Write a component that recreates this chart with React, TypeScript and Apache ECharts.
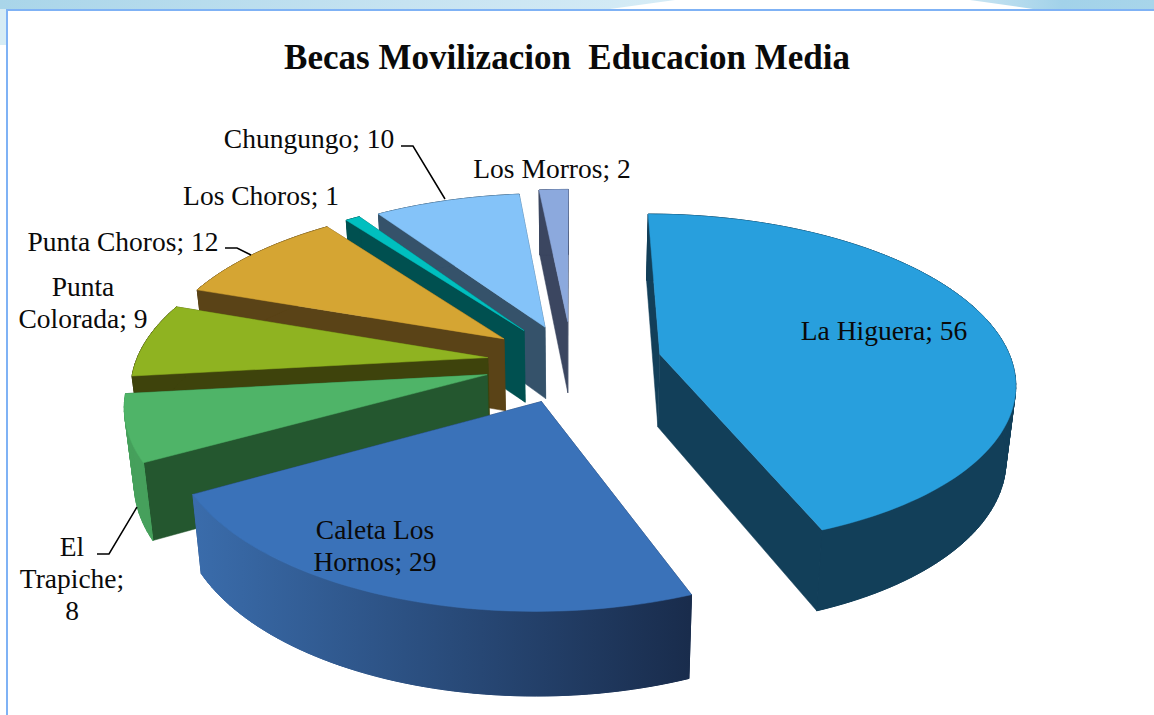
import React, { useEffect, useRef } from "react";
import * as echarts from "echarts";

const categories = ["La Higuera", "Caleta Los Hornos", "El Trapiche", "Punta Colorada", "Punta Choros", "Los Choros", "Chungungo", "Los Morros"];
const values = [56, 29, 8, 9, 12, 1, 10, 2];
const explode = [90, 87, 88, 85, 86, 85, 82, 90];
const topColors = ["#289FDD", "#3A72B9", "#4FB468", "#8FB321", "#D5A533", "#00BFBF", "#84C3F9", "#8CA9DD"];
const faceColors = ["#123F59", "#1A2D4E", "#24572F", "#3E430C", "#5A4317", "#005050", "#35526A", "#3B4660"];
const wallColors = ["#123F59", "", "#46A05C", "#3E430C", "#5A4317", "#005050", "#35526A", "#3B4660"];
const labelLines = [["La Higuera; 56"], ["Caleta Los", "Hornos; 29"], ["El", "Trapiche;", "8"], ["Punta", "Colorada; 9"], ["Punta Choros; 12"], ["Los Choros; 1"], ["Chungungo; 10"], ["Los Morros; 2"]];
const labelCenters = [[884, 330], [375, 545], [72, 578], [83, 302], [123, 241], [261, 195], [309, 138], [552, 168]];
const leaders = [[[401, 146], [413, 146], [445, 199]], [[225, 248], [237, 248], [251, 255]], [[97, 554], [109, 554], [137, 507]]];
const titleText = "Becas Movilizacion  Educacion Media";

const CX = 572, CY = 362, R = 352, TILT = 164, PERSP = 6.5, DEPTH = 73, BOTTOM_SCALE = 0.978;
const FONT = "'Liberation Serif', serif";
const total = values.reduce((a, b) => a + b, 0);

function project(X: number, Z: number) {
  const s = PERSP / (PERSP + Z / R);
  return { x: X * s, y: ((-Z * TILT) / R) * s, s };
}
function top(theta: number, r: number, ex: number, mid: number) {
  const p = project(r * Math.sin(theta) + ex * Math.sin(mid), r * Math.cos(theta) + ex * Math.cos(mid));
  return [CX + p.x, CY + p.y];
}
function bottom(theta: number, r: number, ex: number, mid: number) {
  const p = project(r * Math.sin(theta) + ex * Math.sin(mid), r * Math.cos(theta) + ex * Math.cos(mid));
  return [CX + p.x * BOTTOM_SCALE, CY + p.y * BOTTOM_SCALE + DEPTH * p.s];
}

function renderSlice(params: any, api: any) {
  const i = api.value(0);
  let cum = 0;
  for (let k = 0; k < i; k++) cum += values[k];
  const a0 = (cum / total) * Math.PI * 2;
  const a1 = ((cum + values[i]) / total) * Math.PI * 2;
  const mid = (a0 + a1) / 2;
  const ex = explode[i];
  const n = Math.max(4, Math.ceil((a1 - a0) * 40));
  const arcT: number[][] = [], arcB: number[][] = [];
  for (let k = 0; k <= n; k++) {
    const t = a0 + ((a1 - a0) * k) / n;
    arcT.push(top(t, R, ex, mid));
    arcB.push(bottom(t, R, ex, mid));
  }
  const apex = top(0, 0, ex, mid);
  const apexB = bottom(0, 0, ex, mid);
  const wallFill = wallColors[i] || new echarts.graphic.LinearGradient(195, 0, 690, 0, [{ offset: 0, color: "#3A6CAB" }, { offset: 1, color: "#192C4C" }], true);
  const poly = (points: number[][], fill: any, lineWidth = 0.5) => ({
    type: "polygon", shape: { points }, style: { fill, stroke: fill, lineWidth }, silent: true,
  });
  const children: any[] = [
    poly([apex, arcT[n], arcB[n], apexB], faceColors[i]),
    poly([apex, arcT[0], arcB[0], apexB], faceColors[i]),
  ];
  // quads fill the silhouette between the two rims; the single band on top hides their seams
  for (let k = 0; k < n; k++) {
    children.push(poly([arcT[k], arcT[k + 1], arcB[k + 1], arcB[k]], wallFill, 1));
  }
  children.push(poly([...arcT, ...arcB.slice().reverse()], wallFill));
  children.push(poly([apex, ...arcT], topColors[i]));
  return { type: "group", children };
}

// painter's order: farthest slices first
const drawOrder = [7, 6, 5, 4, 3, 2, 1, 0];

export default function App() {
  const ref = useRef<HTMLDivElement>(null);
  useEffect(() => {
    const chart = echarts.init(ref.current!, null, { renderer: "svg" });
    const labelGraphics: any[] = [];
    labelLines.forEach((lines, i) => {
      const lh = 32;
      lines.forEach((line, j) => {
        labelGraphics.push({
          type: "text", z: 20,
          x: labelCenters[i][0], y: labelCenters[i][1] + (j - (lines.length - 1) / 2) * lh,
          style: { text: line, fill: "#0A0A0A", font: `27.5px ${FONT}`, align: "center", verticalAlign: "middle" },
        });
      });
    });
    const leaderGraphics = leaders.map((points) => ({
      type: "polyline", z: 20, shape: { points }, style: { stroke: "#000", lineWidth: 1.5, fill: "none" },
    }));
    chart.setOption({
      animation: false,
      backgroundColor: "#fff",
      title: { show: false },
      graphic: [
        { type: "polygon", z: -10, shape: { points: [[0, 0], [675, 0], [610, 9], [0, 9]] },
          style: { fill: new echarts.graphic.LinearGradient(0, 0, 1, 0, [{ offset: 0, color: "#A9D5E9" }, { offset: 0.6, color: "#C6E3F1" }, { offset: 1, color: "#D6ECF6" }]) } },
        { type: "rect", z: -10, shape: { x: 0, y: 9, width: 6, height: 36 }, style: { fill: "#D6ECF5" } },
        { type: "polygon", z: -10, shape: { points: [[970, 0], [1154, 0], [1154, 9], [1033, 9]] },
          style: { fill: new echarts.graphic.LinearGradient(0, 0, 1, 0, [{ offset: 0, color: "#C8E4F2" }, { offset: 0.5, color: "#A2D2E9" }, { offset: 1, color: "#A8D5EA" }]) } },
        { type: "rect", z: -5, shape: { x: 7, y: 10, width: 1160, height: 720 }, style: { fill: "#fff", stroke: "#7FB2F5", lineWidth: 2 } },
        { type: "text", z: 20, x: 567, y: 57, style: { text: titleText, fill: "#0A0A0A", font: `bold 35px ${FONT}`, align: "center", verticalAlign: "middle" } },
        ...leaderGraphics,
        ...labelGraphics,
      ],
      series: [{
        type: "custom",
        coordinateSystem: "none",
        renderItem: renderSlice,
        data: drawOrder.map((i) => ({ name: categories[i], value: [i, values[i]] })),
        silent: true,
        clip: false,
      }],
    });
    return () => chart.dispose();
  }, []);
  return <div ref={ref} style={{ position: "absolute", left: 0, top: 0, width: 1154, height: 715 }} />;
}
